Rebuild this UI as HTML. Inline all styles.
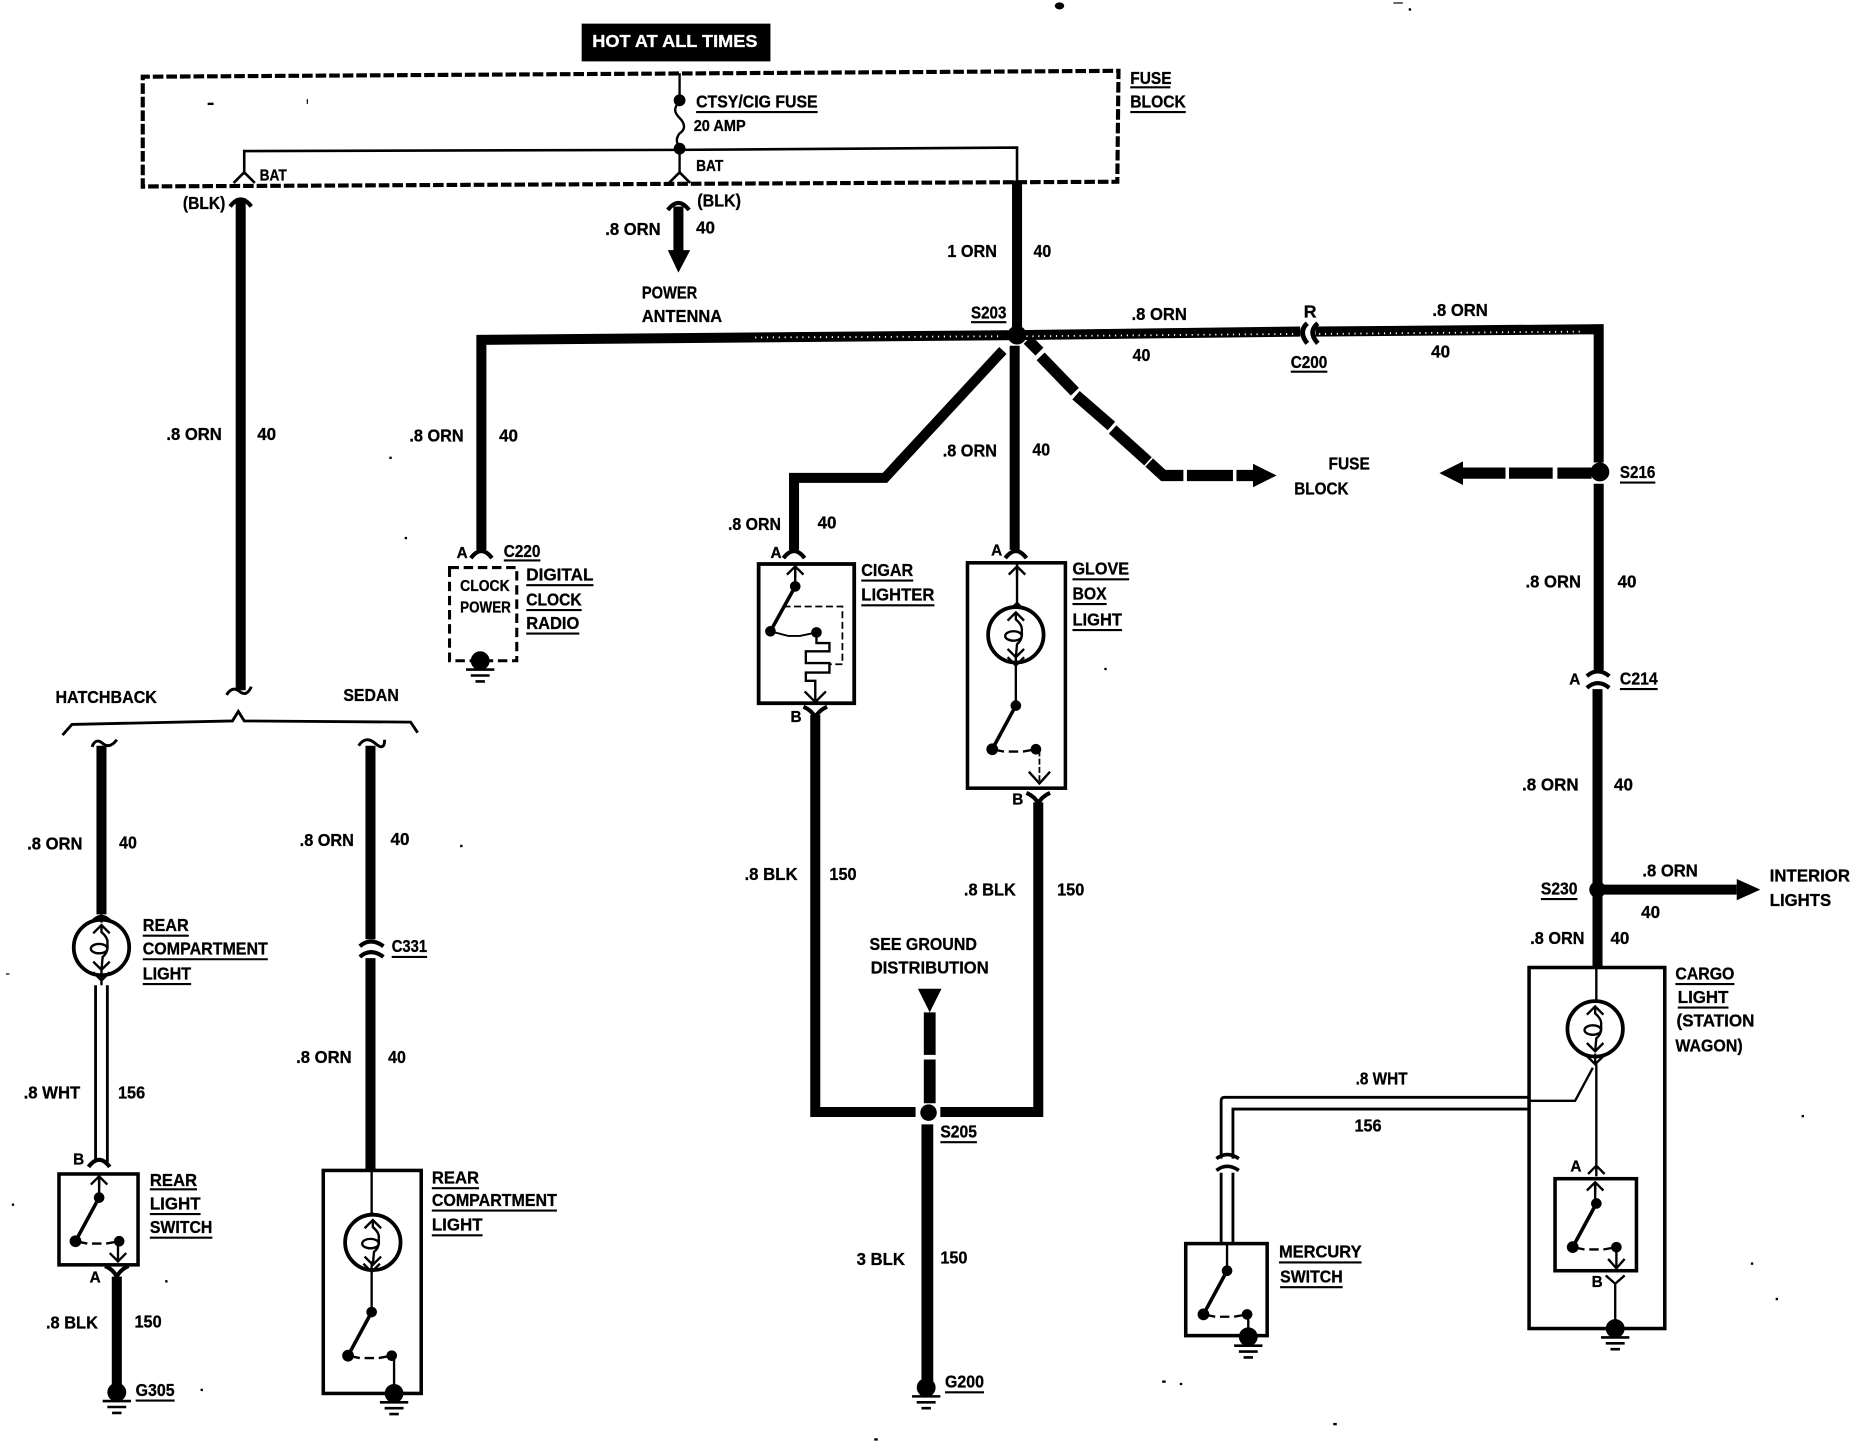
<!DOCTYPE html>
<html><head><meta charset="utf-8"><style>
html,body{margin:0;padding:0;background:#fff}
svg{display:block}
text{font-family:"Liberation Sans",sans-serif;font-weight:700;font-size:15px;fill:#000;stroke:#000;stroke-width:.25px}
.s{font-size:13px}
.w{fill:#fff;stroke:#fff}
</style></head><body>
<svg xmlns="http://www.w3.org/2000/svg" width="1850" height="1456" viewBox="0 0 1568 1234">
<defs>
<g id="up"><path d="M-7 6L0 -1L7 6M0 0V8" fill="none" stroke="#000" stroke-width="2"/></g>
<g id="dn"><path d="M-7 -6L0 1L7 -6M0 0V-8" fill="none" stroke="#000" stroke-width="2"/></g>
<g id="cu"><path d="M-9 5Q0 -7 9 5" fill="none" stroke="#000" stroke-width="3.5"/></g>
<g id="cd"><path d="M-10 -5Q-3 -2 0 4Q3 -2 10 -5" fill="none" stroke="#000" stroke-width="3.5"/></g>
<g id="bulb"><circle r="23.5" fill="#fff" stroke="#000" stroke-width="3.2"/>
<path d="M-7 -12L0 -19L7 -12M7 12L0 19L-7 12M0 -19V-13Q6 -8 5 -3Q6 4 1 8L0 19" fill="none" stroke="#000" stroke-width="2"/>
<ellipse cx="-2" cy="1" rx="7" ry="4" fill="none" stroke="#000" stroke-width="2"/></g>
<g id="sw"><circle r="4.5"/><circle cx="-20" cy="37" r="5"/><circle cx="17" cy="37" r="4.5"/>
<path d="M0 0L-20 37" stroke="#000" stroke-width="3"/><path d="M-20 37L-10 39M-6 39H2M6 39L17 37" stroke="#000" stroke-width="2" fill="none"/></g>
<g id="gnd"><circle r="8"/><path d="M-12 7.500H12M-8 12.500H8M-4 17.500H4" stroke="#000" stroke-width="2.200"/></g>
</defs>

<!-- header -->
<rect x="493" y="20" width="160" height="32"/>
<text x="502" y="40" class="w" textLength="140" lengthAdjust="spacingAndGlyphs">HOT AT ALL TIMES</text>

<!-- fuse block -->
<path d="M121 160L121 65L948 60L947 154L121 158" fill="none" stroke="#000" stroke-width="3.500" stroke-dasharray="9 2.500"/>
<path d="M576 62V85" stroke="#000" stroke-width="2"/>
<path d="M576 85C571 92 571 95 576 100C581 105 581 110 576 113C572 118 574 122 576 126V148" fill="none" stroke="#000" stroke-width="2"/>
<circle cx="576" cy="85" r="5"/><circle cx="576" cy="126" r="5"/>
<path d="M207 148V128L576 127L862 125V153" fill="none" stroke="#000" stroke-width="2.200"/>
<path d="M198 155L207 146L216 155M567 155L576 146L585 155" fill="none" stroke="#000" stroke-width="2.200"/>

<!-- thick wires -->
<g fill="none" stroke="#000" stroke-width="8.500">
<path d="M204 168V585"/>
<path d="M575 175V215"/>
<path d="M862 153V285"/>
<path d="M408 466V288L862 284L1102 281M1115 281L1355 279V392M1355 410V568"/>
<path d="M860 293V466"/>
<path d="M850 297L750 405H673V466"/>
<path d="M1354 584V820" />
<path d="M1354 754H1472" />
<path d="M691 606V942.500H776M797 942.500H880V680"/>
<path d="M86 632V775"/>
<path d="M99 1082V1178"/>
<path d="M314 632V796M314 812V992"/>
</g>
<g fill="none" stroke="#000" stroke-width="10">
<path d="M788 858V894M788 898V935M786 953V1175"/>
</g>
<!-- dashed thick -->
<g fill="none" stroke="#000" stroke-width="9.500">
<path d="M871 288L881 298M882 302L911 332M912 335L942 361M943 364L973 391M974 392L986 403H1003M1006 403H1045M1048 403H1063"/>
<path d="M1240 401H1276M1279 401H1316M1320 401H1349"/>
</g>
<!-- wire noise -->
<path d="M870 285L1100 283M1118 283L1340 281M640 286L850 285" fill="none" stroke="#fff" stroke-width="1.500" stroke-dasharray="1 4"/>
<polygon points="566,212 585,212 575,231"/>
<polygon points="1062,393 1082,403 1062,413"/>
<polygon points="1240,391 1220,401 1240,411"/>
<polygon points="1472,745 1492,754 1472,763"/>
<polygon points="778,838 798,838 788,858"/>
<circle cx="862" cy="284" r="8"/><circle cx="1356" cy="400" r="8"/><circle cx="1354" cy="754" r="7"/><circle cx="787" cy="943" r="7"/>

<!-- connectors on thick wires -->
<use href="#cu" x="204" y="170"/><use href="#cu" x="575" y="173"/>
<use href="#cu" x="408" y="468"/><use href="#cu" x="673" y="468"/><use href="#cu" x="861" y="468"/>
<use href="#cd" x="691" y="604"/><use href="#cd" x="880" y="677"/>
<use href="#cu" x="86" y="778"/>
<use href="#cu" x="84" y="984"/><use href="#cd" x="99" y="1078"/>
<path d="M1345 573Q1354 565 1364 573M1345 583Q1354 575 1364 583" fill="none" stroke="#000" stroke-width="3.500"/>
<path d="M305 802Q314 794 325 802M305 811Q314 803 325 811" fill="none" stroke="#000" stroke-width="3.500"/>
<path d="M1108 274Q1100 281 1108 291M1117 274Q1108 281 1117 291" fill="none" stroke="#000" stroke-width="4"/>

<!-- hatchback / sedan brace -->
<path d="M53 623L61 614L197 611L202 603L207 611L348 612L354 621" fill="none" stroke="#000" stroke-width="2.400"/>
<path d="M192 589Q197 581 203 586T213 582" fill="none" stroke="#000" stroke-width="2.500"/>
<path d="M78 633Q81 625 87 630T99 627" fill="none" stroke="#000" stroke-width="2.500"/>
<path d="M304 632Q310 623 318 630T326 627" fill="none" stroke="#000" stroke-width="2.500"/>

<!-- rear compartment light left -->
<use href="#bulb" x="86" y="803"/>
<path d="M86 775V782M86 826V835" stroke="#000" stroke-width="2"/>
<use href="#dn" x="86" y="830"/>
<path d="M81 835V985M91 835V985" fill="none" stroke="#000" stroke-width="2.400"/>
<!-- rear light switch -->
<rect x="50" y="995" width="67" height="77" fill="none" stroke="#000" stroke-width="3"/>
<use href="#up" x="84" y="998"/><path d="M84 998V1015" stroke="#000" stroke-width="2"/>
<use href="#sw" x="84" y="1015"/>
<path d="M100 1052V1070" stroke="#000" stroke-width="2"/><path d="M93 1062L100 1069L107 1062" fill="none" stroke="#000" stroke-width="2"/>
<use href="#gnd" x="99" y="1180"/>

<!-- rear compartment right -->
<rect x="274" y="992" width="83" height="189" fill="none" stroke="#000" stroke-width="3"/>
<path d="M315 992V1112" stroke="#000" stroke-width="2"/>
<use href="#up" x="315" y="1029"/><use href="#bulb" x="316" y="1053"/><use href="#dn" x="315" y="1077"/>
<use href="#sw" x="315" y="1112"/>
<path d="M334 1150V1178" stroke="#000" stroke-width="2"/>
<use href="#gnd" x="334" y="1181"/>

<!-- clock radio -->
<rect x="381" y="481" width="57" height="79" fill="none" stroke="#000" stroke-width="2.600" stroke-dasharray="8 4"/>
<use href="#gnd" x="407" y="560"/>

<!-- cigar lighter -->
<rect x="643" y="478" width="81" height="118" fill="none" stroke="#000" stroke-width="3.200"/>
<use href="#up" x="674" y="481"/><path d="M674 480V497" stroke="#000" stroke-width="2"/>
<circle cx="674" cy="497" r="4.500"/><circle cx="653" cy="535" r="4.500"/><circle cx="692" cy="536" r="4.500"/>
<path d="M674 497L653 535" stroke="#000" stroke-width="3"/>
<path d="M653 535L668 539H678L692 536" fill="none" stroke="#000" stroke-width="1.600"/>
<path d="M664 514H714V563H703" fill="none" stroke="#000" stroke-width="1.500" stroke-dasharray="6 3"/>
<path d="M692 536V545H703V552H683V562H703V570H683V577H691V596" fill="none" stroke="#000" stroke-width="2"/>
<path d="M682 586L691 595L700 586" fill="none" stroke="#000" stroke-width="2"/>

<!-- glove box -->
<rect x="820" y="477" width="83" height="191" fill="none" stroke="#000" stroke-width="3"/>
<use href="#up" x="862" y="481"/><path d="M862 478V515M861 562V598" stroke="#000" stroke-width="2"/>
<use href="#up" x="862" y="512"/><use href="#bulb" x="861" y="538"/><use href="#dn" x="861" y="563"/>
<use href="#sw" x="861" y="598"/>
<path d="M881 636V664" stroke="#000" stroke-width="1.500" stroke-dasharray="5 2"/>
<path d="M872 654L881 664L890 654" fill="none" stroke="#000" stroke-width="2"/>

<!-- cargo light -->
<rect x="1296" y="820" width="115" height="306" fill="none" stroke="#000" stroke-width="3"/>
<path d="M1353 820V848M1353 902V990" stroke="#000" stroke-width="2"/>
<use href="#up" x="1353" y="849"/><use href="#bulb" x="1352" y="872"/><use href="#dn" x="1352" y="901"/>
<path d="M1350 905L1335 933H1296" fill="none" stroke="#000" stroke-width="2"/>
<use href="#up" x="1353" y="989"/>
<rect x="1318" y="999" width="69" height="78" fill="none" stroke="#000" stroke-width="3"/>
<use href="#up" x="1352" y="1003"/><path d="M1352 1003V1020" stroke="#000" stroke-width="2"/>
<use href="#sw" x="1353" y="1020"/>
<path d="M1370 1057V1075" stroke="#000" stroke-width="2"/><path d="M1363 1067L1370 1075L1377 1067" fill="none" stroke="#000" stroke-width="2"/>
<path d="M1361 1081L1369 1088L1377 1081M1369 1088V1120" fill="none" stroke="#000" stroke-width="2"/>
<use href="#gnd" x="1369" y="1126"/>

<!-- white wire to mercury -->
<path d="M1296 930H1038Q1035 930 1035 933V982M1296 940H1045V982" fill="none" stroke="#000" stroke-width="2.400"/>
<path d="M1031 982Q1040 975 1050 982M1031 992Q1040 985 1050 992" fill="none" stroke="#000" stroke-width="3"/>
<path d="M1035 994V1053M1045 994V1053" fill="none" stroke="#000" stroke-width="2.400"/>
<rect x="1005" y="1054" width="69" height="78" fill="none" stroke="#000" stroke-width="3"/>
<path d="M1040 1054V1076" stroke="#000" stroke-width="2"/>
<use href="#sw" x="1040" y="1077"/>
<path d="M1058 1114V1130" stroke="#000" stroke-width="2"/>
<use href="#gnd" x="1058" y="1133"/>

<!-- label underlines -->
<path fill="none" stroke="#000" stroke-width="1.800" d="M958 74H992M958 95H1005M590 95H693M823 273H853M1094 315H1125M427 475H458M446 496H503M446 517H493M446 537H491M121 793H160M121 813H227M121 834H162M332 811H362M127 1008H167M127 1029H170M127 1049H180M115 1187H148M366 1007H406M366 1026H472M366 1047H409M730 492H774M730 513H792M909 491H957M909 512H938M909 534H951M1373 409H1403M1373 584H1405M1306 762H1337M1420 834H1470M1422 854H1465M797 968H828M801 1180H834M1084 1070H1154M1085 1091H1138"/>

<!-- specks -->
<g><ellipse cx="898" cy="5" rx="4" ry="3"/><rect x="176" y="87" width="5" height="2"/><rect x="260" y="84" width="1" height="4"/><rect x="330" y="387" width="2" height="2"/><rect x="343" y="455" width="2" height="2"/><rect x="936" y="566" width="2" height="2"/><rect x="390" y="716" width="2" height="2"/><rect x="1181" y="2" width="8" height="1"/><rect x="1194" y="7" width="2" height="2"/><rect x="5" y="825" width="3" height="1"/><rect x="10" y="1020" width="2" height="2"/><rect x="140" y="1085" width="2" height="2"/><rect x="170" y="1177" width="2" height="2"/><rect x="741" y="1219" width="3" height="2"/><rect x="1130" y="1206" width="3" height="2"/><rect x="1000" y="1172" width="2" height="2"/><rect x="985" y="1170" width="3" height="2"/><rect x="1484" y="1070" width="2" height="2"/><rect x="1505" y="1100" width="2" height="2"/><rect x="1527" y="945" width="2" height="2"/></g>

<!-- labels -->
<text x="958" y="71" textLength="35" lengthAdjust="spacingAndGlyphs">FUSE</text>
<text x="958" y="91" textLength="47" lengthAdjust="spacingAndGlyphs">BLOCK</text>
<text x="590" y="91" textLength="103" lengthAdjust="spacingAndGlyphs">CTSY/CIG FUSE</text>
<text x="588" y="111" class="s" textLength="44" lengthAdjust="spacingAndGlyphs">20 AMP</text>
<text x="220" y="153" class="s" textLength="23" lengthAdjust="spacingAndGlyphs">BAT</text>
<text x="590" y="145" class="s" textLength="23" lengthAdjust="spacingAndGlyphs">BAT</text>
<text x="155" y="177" textLength="36" lengthAdjust="spacingAndGlyphs">(BLK)</text>
<text x="591" y="175" textLength="37" lengthAdjust="spacingAndGlyphs">(BLK)</text>
<text x="513" y="199" textLength="47" lengthAdjust="spacingAndGlyphs">.8 ORN</text>
<text x="590" y="198" textLength="16" lengthAdjust="spacingAndGlyphs">40</text>
<text x="803" y="218" textLength="42" lengthAdjust="spacingAndGlyphs">1 ORN</text>
<text x="876" y="218" textLength="15" lengthAdjust="spacingAndGlyphs">40</text>
<text x="544" y="253" textLength="47" lengthAdjust="spacingAndGlyphs">POWER</text>
<text x="544" y="273" textLength="68" lengthAdjust="spacingAndGlyphs">ANTENNA</text>
<text x="823" y="270" textLength="30" lengthAdjust="spacingAndGlyphs">S203</text>
<text x="959" y="271" textLength="47" lengthAdjust="spacingAndGlyphs">.8 ORN</text>
<text x="960" y="306" textLength="15" lengthAdjust="spacingAndGlyphs">40</text>
<text x="1105" y="269">R</text>
<text x="1094" y="312" textLength="31" lengthAdjust="spacingAndGlyphs">C200</text>
<text x="1214" y="268" textLength="47" lengthAdjust="spacingAndGlyphs">.8 ORN</text>
<text x="1213" y="303" textLength="16" lengthAdjust="spacingAndGlyphs">40</text>
<text x="141" y="373" textLength="47" lengthAdjust="spacingAndGlyphs">.8 ORN</text>
<text x="218" y="373" textLength="16" lengthAdjust="spacingAndGlyphs">40</text>
<text x="347" y="374" textLength="46" lengthAdjust="spacingAndGlyphs">.8 ORN</text>
<text x="423" y="374" textLength="16" lengthAdjust="spacingAndGlyphs">40</text>
<text x="427" y="472" textLength="31" lengthAdjust="spacingAndGlyphs">C220</text>
<text x="387" y="473" class="s">A</text>
<text x="446" y="492" textLength="57" lengthAdjust="spacingAndGlyphs">DIGITAL</text>
<text x="446" y="513" textLength="47" lengthAdjust="spacingAndGlyphs">CLOCK</text>
<text x="446" y="533" textLength="45" lengthAdjust="spacingAndGlyphs">RADIO</text>
<text x="390" y="501" class="s" textLength="42" lengthAdjust="spacingAndGlyphs">CLOCK</text>
<text x="390" y="519" class="s" textLength="43" lengthAdjust="spacingAndGlyphs">POWER</text>
<text x="47" y="596" textLength="86" lengthAdjust="spacingAndGlyphs">HATCHBACK</text>
<text x="291" y="594" textLength="47" lengthAdjust="spacingAndGlyphs">SEDAN</text>
<text x="23" y="720" textLength="47" lengthAdjust="spacingAndGlyphs">.8 ORN</text>
<text x="101" y="719" textLength="15" lengthAdjust="spacingAndGlyphs">40</text>
<text x="254" y="717" textLength="46" lengthAdjust="spacingAndGlyphs">.8 ORN</text>
<text x="331" y="716" textLength="16" lengthAdjust="spacingAndGlyphs">40</text>
<text x="121" y="789" textLength="39" lengthAdjust="spacingAndGlyphs">REAR</text>
<text x="121" y="809" textLength="106" lengthAdjust="spacingAndGlyphs">COMPARTMENT</text>
<text x="121" y="830" textLength="41" lengthAdjust="spacingAndGlyphs">LIGHT</text>
<text x="332" y="807" textLength="30" lengthAdjust="spacingAndGlyphs">C331</text>
<text x="20" y="931" textLength="48" lengthAdjust="spacingAndGlyphs">.8 WHT</text>
<text x="100" y="931" textLength="23" lengthAdjust="spacingAndGlyphs">156</text>
<text x="62" y="987" class="s">B</text>
<text x="127" y="1005" textLength="40" lengthAdjust="spacingAndGlyphs">REAR</text>
<text x="127" y="1025" textLength="43" lengthAdjust="spacingAndGlyphs">LIGHT</text>
<text x="127" y="1045" textLength="53" lengthAdjust="spacingAndGlyphs">SWITCH</text>
<text x="76" y="1087" class="s">A</text>
<text x="39" y="1126" textLength="44" lengthAdjust="spacingAndGlyphs">.8 BLK</text>
<text x="114" y="1125" textLength="23" lengthAdjust="spacingAndGlyphs">150</text>
<text x="115" y="1183" textLength="33" lengthAdjust="spacingAndGlyphs">G305</text>
<text x="251" y="901" textLength="47" lengthAdjust="spacingAndGlyphs">.8 ORN</text>
<text x="329" y="901" textLength="15" lengthAdjust="spacingAndGlyphs">40</text>
<text x="366" y="1003" textLength="40" lengthAdjust="spacingAndGlyphs">REAR</text>
<text x="366" y="1022" textLength="106" lengthAdjust="spacingAndGlyphs">COMPARTMENT</text>
<text x="366" y="1043" textLength="43" lengthAdjust="spacingAndGlyphs">LIGHT</text>
<text x="617" y="449" textLength="45" lengthAdjust="spacingAndGlyphs">.8 ORN</text>
<text x="693" y="448" textLength="16" lengthAdjust="spacingAndGlyphs">40</text>
<text x="653" y="473" class="s">A</text>
<text x="730" y="488" textLength="44" lengthAdjust="spacingAndGlyphs">CIGAR</text>
<text x="730" y="509" textLength="62" lengthAdjust="spacingAndGlyphs">LIGHTER</text>
<text x="799" y="387" textLength="46" lengthAdjust="spacingAndGlyphs">.8 ORN</text>
<text x="875" y="386" textLength="15" lengthAdjust="spacingAndGlyphs">40</text>
<text x="840" y="471" class="s">A</text>
<text x="909" y="487" textLength="48" lengthAdjust="spacingAndGlyphs">GLOVE</text>
<text x="909" y="508" textLength="29" lengthAdjust="spacingAndGlyphs">BOX</text>
<text x="909" y="530" textLength="42" lengthAdjust="spacingAndGlyphs">LIGHT</text>
<text x="670" y="612" class="s">B</text>
<text x="858" y="682" class="s">B</text>
<text x="1126" y="398" textLength="35" lengthAdjust="spacingAndGlyphs">FUSE</text>
<text x="1097" y="419" textLength="46" lengthAdjust="spacingAndGlyphs">BLOCK</text>
<text x="1373" y="405" textLength="30" lengthAdjust="spacingAndGlyphs">S216</text>
<text x="1293" y="498" textLength="47" lengthAdjust="spacingAndGlyphs">.8 ORN</text>
<text x="1371" y="498" textLength="16" lengthAdjust="spacingAndGlyphs">40</text>
<text x="1330" y="580" class="s">A</text>
<text x="1373" y="580" textLength="32" lengthAdjust="spacingAndGlyphs">C214</text>
<text x="1290" y="670" textLength="48" lengthAdjust="spacingAndGlyphs">.8 ORN</text>
<text x="1368" y="670" textLength="16" lengthAdjust="spacingAndGlyphs">40</text>
<text x="1306" y="758" textLength="31" lengthAdjust="spacingAndGlyphs">S230</text>
<text x="1392" y="743" textLength="47" lengthAdjust="spacingAndGlyphs">.8 ORN</text>
<text x="1391" y="778" textLength="16" lengthAdjust="spacingAndGlyphs">40</text>
<text x="1500" y="747" textLength="68" lengthAdjust="spacingAndGlyphs">INTERIOR</text>
<text x="1500" y="768" textLength="52" lengthAdjust="spacingAndGlyphs">LIGHTS</text>
<text x="1297" y="800" textLength="46" lengthAdjust="spacingAndGlyphs">.8 ORN</text>
<text x="1365" y="800" textLength="16" lengthAdjust="spacingAndGlyphs">40</text>
<text x="1420" y="830" textLength="50" lengthAdjust="spacingAndGlyphs">CARGO</text>
<text x="1422" y="850" textLength="43" lengthAdjust="spacingAndGlyphs">LIGHT</text>
<text x="1421" y="870" textLength="66" lengthAdjust="spacingAndGlyphs">(STATION</text>
<text x="1420" y="891" textLength="57" lengthAdjust="spacingAndGlyphs">WAGON)</text>
<text x="1149" y="919" textLength="44" lengthAdjust="spacingAndGlyphs">.8 WHT</text>
<text x="1148" y="959" textLength="23" lengthAdjust="spacingAndGlyphs">156</text>
<text x="631" y="746" textLength="45" lengthAdjust="spacingAndGlyphs">.8 BLK</text>
<text x="703" y="746" textLength="23" lengthAdjust="spacingAndGlyphs">150</text>
<text x="817" y="759" textLength="44" lengthAdjust="spacingAndGlyphs">.8 BLK</text>
<text x="896" y="759" textLength="23" lengthAdjust="spacingAndGlyphs">150</text>
<text x="737" y="805" textLength="91" lengthAdjust="spacingAndGlyphs">SEE GROUND</text>
<text x="738" y="825" textLength="100" lengthAdjust="spacingAndGlyphs">DISTRIBUTION</text>
<text x="797" y="964" textLength="31" lengthAdjust="spacingAndGlyphs">S205</text>
<text x="726" y="1072" textLength="41" lengthAdjust="spacingAndGlyphs">3 BLK</text>
<text x="797" y="1071" textLength="23" lengthAdjust="spacingAndGlyphs">150</text>
<text x="801" y="1176" textLength="33" lengthAdjust="spacingAndGlyphs">G200</text>
<text x="1084" y="1066" textLength="70" lengthAdjust="spacingAndGlyphs">MERCURY</text>
<text x="1085" y="1087" textLength="53" lengthAdjust="spacingAndGlyphs">SWITCH</text>
<text x="1331" y="993" class="s">A</text>
<text x="1349" y="1091" class="s">B</text>
<use href="#gnd" x="785" y="1176"/>
</svg>
</body></html>
